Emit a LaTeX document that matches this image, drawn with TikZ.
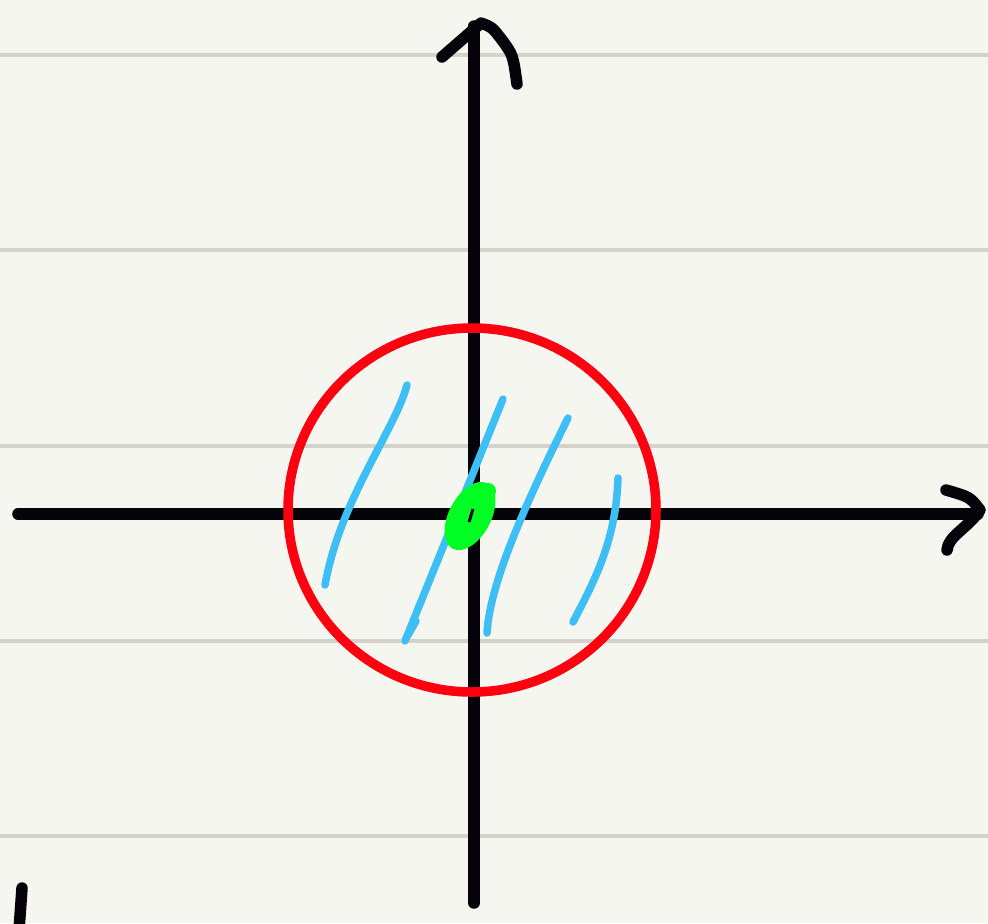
\documentclass[tikz,border=0pt]{standalone}
\usepackage{tikz}

\definecolor{paper}{HTML}{F5F6F0}
\definecolor{ruleline}{HTML}{D3D3CC}
\definecolor{ink}{HTML}{06040A}
\definecolor{ringred}{HTML}{FF0010}
\definecolor{hatchblue}{HTML}{3DBEF5}
\definecolor{blobgreen}{HTML}{00FF22}

\begin{document}
\begin{tikzpicture}[
    x=0.01cm, y=-0.01cm,
    rule/.style={draw=ruleline, line width=0.45mm},
    axis/.style={draw=ink, line width=1.15mm, line cap=round, line join=round},
    ring/.style={draw=ringred, line width=0.95mm},
    hatch/.style={draw=hatchblue, line width=0.75mm, line cap=round},
    blob/.style={fill=blobgreen}
]
\fill[paper] (0,0) rectangle (988,923);
\useasboundingbox (0,0) rectangle (988,923);

% ruled paper
\foreach \y in {55,250,446,641,836}
    \draw[rule] (0,\y) -- (988,\y);

% axes
\coordinate (origin) at (474,514);
\coordinate (xleft) at (18,514);
\coordinate (xright) at (978,514);
\coordinate (ybot) at (474,903);
\coordinate (ytop) at (474,26);
\draw[axis] (xleft) -- (xright);
\draw[axis] (ybot) -- (ytop);
\draw[axis] (946,490) .. controls (970,497) .. (980,510) .. controls (968,528) and (948,536) .. (947,550);
\draw[axis] (442,57) -- (481,23) .. controls (492,27) .. (502,40) .. controls (513,55) .. (517,84);

% disc
\draw[ring] (472,510) ellipse [x radius=184, y radius=182];

% hatching
\draw[hatch] (407,385) .. controls (395,430) and (340,500) .. (325,585);
\draw[hatch] (503,399) -- (405,641);
\draw[hatch] (408,635) -- (416,621);
\draw[hatch] (568,418) .. controls (530,495) and (490,580) .. (487,633);
\draw[hatch] (618,478) .. controls (616,540) and (595,580) .. (573,622);

% point at the origin
\fill[blob, rotate around={62:(470,516)}] (470,516) ellipse [x radius=37, y radius=21];
\fill[blob] (488,491) circle [radius=8];
\draw[ink, line width=0.3mm] (469,522) -- (473,509);

% pen mark
\draw[axis] (22,888) -- (19,930);
\end{tikzpicture}
\end{document}
